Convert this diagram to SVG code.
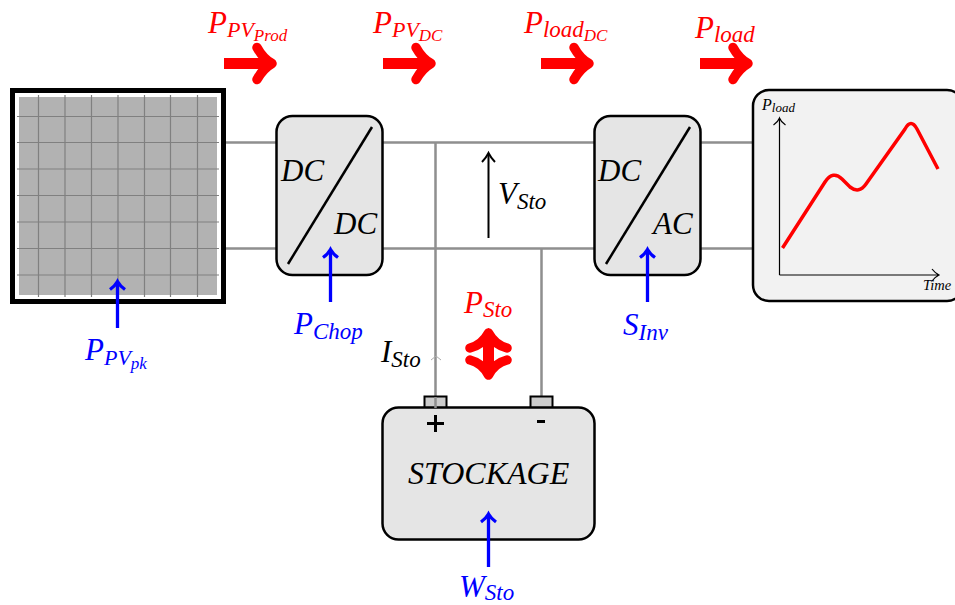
<svg xmlns="http://www.w3.org/2000/svg" width="955" height="605" viewBox="0 0 955 605">
<style>
text{font-family:"Liberation Serif","Times New Roman",serif;font-style:italic}
.r{fill:#f00}.b{fill:#00f}.k{fill:#000}
.w{fill:none;stroke:#8f8f8f;stroke-width:2.5}
.box{fill:#e5e5e5;stroke:#000;stroke-width:2.5}
.d{fill:none;stroke:#000;stroke-width:2.5}
.g{stroke:#808080;stroke-width:1.2;fill:none}
.fat{fill:none;stroke:#f00;stroke-width:11}
.fh{fill:none;stroke:#f00;stroke-width:9.500;stroke-linecap:round;stroke-linejoin:round}
.ba{fill:none;stroke:#00f;stroke-width:3.3}
.t{font-size:31px}.s{font-size:23px}.sp{font-size:22px}.ss{font-size:17px}
</style>
<defs>
<g id="fa"><path class="fat" d="M0 0H46"/><path class="fh" d="M33 -16Q39 -5 48 0Q39 5 33 16"/></g>
<path id="bh" class="ba" d="M-7.500 8Q-2.500 4.500 0 0Q2.500 4.500 7.500 8"/>
</defs>
<g id="connectors">
<path class="w" d="M224 142.500H277M224 248.500H277M382 142.500H595M382 248.500H595M700 142.500H753M700 248.500H753M435.500 142.500V408M541.500 248.500V397"/>
<path d="M431 360L436 356L441 360" fill="none" stroke="#aaa" stroke-width="1"/>
<path d="M488.500 238V155" fill="none" stroke="#000" stroke-width="2"/>
<path d="M482 162Q486 158 488.500 153Q491 158 495 162" fill="none" stroke="#000" stroke-width="2"/>
</g>
<g id="pv-panel">
<rect x="12.500" y="90.500" width="211" height="211" fill="#fff" stroke="#000" stroke-width="5"/>
<rect x="19" y="97" width="198" height="198" fill="#b2b2b2"/>
<path class="g" d="M38.500 95V297M65 95V297M91.500 95V297M118 95V297M144.500 95V297M170.500 95V297M197.500 95V297M17 116.500H219M17 142.500H219M17 169H219M17 195.500H219M17 222H219M17 248.500H219M17 275H219"/>
</g>
<g id="chopper">
<rect x="276.500" y="116" width="106" height="159" rx="16" class="box"/>
<path class="d" d="M372 127L288 264"/>
<text class="t k" x="281" y="181">DC</text><text class="t k" x="334" y="234">DC</text>
</g>
<g id="inverter">
<rect x="594.500" y="116" width="106" height="159" rx="16" class="box"/>
<path class="d" d="M690 127L606 264"/>
<text class="t k" x="598" y="181">DC</text><text class="t k" x="653" y="234">AC</text>
</g>
<g id="load">
<rect x="753" y="90" width="210" height="211" rx="16" fill="#f2f2f2" stroke="#000" stroke-width="2.500"/>
<path d="M779.500 275V119M773.500 125Q778 122 779.500 118Q781 122 785.500 125M779.500 275H938M932 269Q935 273 939 275Q935 277 932 281" fill="none" stroke="#000" stroke-width="1.200"/>
<path d="M782.500 248L825 182Q833 170 842 179L850 187Q859 194 866 184L905 129Q911 118 917 129L938 169" fill="none" stroke="#f00" stroke-width="3.500"/>
<text x="762" y="110" font-size="16" class="k">P<tspan font-size="13" dy="2">load</tspan></text>
<text x="923" y="290" font-size="14.500" class="k">Time</text>
</g>
<g id="battery">
<rect x="424.500" y="396.500" width="22" height="12" fill="#ccc" stroke="#000" stroke-width="2"/>
<rect x="530.500" y="396.500" width="22" height="12" fill="#ccc" stroke="#000" stroke-width="2"/>
<rect x="382.500" y="407.500" width="212" height="132" rx="16" class="box"/>
<path d="M435.500 397V408" class="w"/>
<path d="M427 423.500H444M435.500 415V432M537 421.500H545" fill="none" stroke="#000" stroke-width="3"/>
<text class="k" font-size="32" x="408" y="484">STOCKAGE</text>
</g>
<g id="flows">
<use href="#fa" x="224" y="63.500"/><use href="#fa" x="383" y="63.500"/><use href="#fa" x="541" y="63.500"/><use href="#fa" x="700" y="63.500"/>
<path class="fat" d="M488.500 337V375"/>
<path class="fh" d="M470 348Q482 345 488.500 333M507 348Q495 345 488.500 333M470 360Q482 363 488.500 375M507 360Q495 363 488.500 375"/>
<text class="t r" x="208" y="33">P<tspan class="sp" dy="4">PV</tspan><tspan class="ss" dy="4">Prod</tspan></text>
<text class="t r" x="373" y="33">P<tspan class="sp" dy="4">PV</tspan><tspan class="ss" dy="4">DC</tspan></text>
<text class="t r" x="524" y="33">P<tspan class="s" dy="4">load</tspan><tspan class="ss" dy="4">DC</tspan></text>
<text class="t r" x="695" y="38">P<tspan class="s" dy="4">load</tspan></text>
<text class="t r" x="464" y="313">P<tspan class="s" dy="4">Sto</tspan></text>
<text class="t k" x="381" y="362">I<tspan class="s" dy="5">Sto</tspan></text>
<text class="t k" x="498" y="204">V<tspan class="s" dy="5">Sto</tspan></text>
</g>
<g id="inputs">
<g class="ba"><path d="M117.500 328V283M330.500 302V250M647.500 302V250M488.500 567V515"/></g>
<use href="#bh" x="117.500" y="281.500"/><use href="#bh" x="330.500" y="249.500"/><use href="#bh" x="647.500" y="249.500"/><use href="#bh" x="488.500" y="514"/>
<text class="t b" x="85" y="360">P<tspan class="sp" dy="5">PV</tspan><tspan class="ss" dy="4">pk</tspan></text>
<text class="t b" x="294" y="334">P<tspan class="s" dy="5">Chop</tspan></text>
<text class="t b" x="623" y="335">S<tspan class="s" dy="5">Inv</tspan></text>
<text class="t b" x="459" y="597">W<tspan class="s" dy="3">Sto</tspan></text>
</g>
</svg>
